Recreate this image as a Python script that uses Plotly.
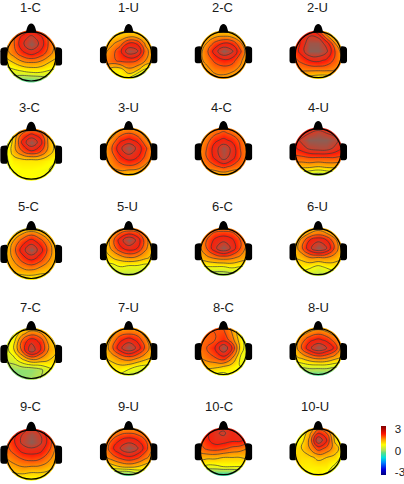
import numpy as np
import plotly.graph_objects as go

labels = ["1-C","1-U","2-C","2-U","3-C","3-U","4-C","4-U","5-C","5-U",
          "6-C","6-U","7-C","7-U","8-C","8-U","9-C","9-U","10-C","10-U"]

# Potential (scale -3..3) sampled across each scalp, rows front to back, columns left to right
grid_x = [-1.05, -0.73, -0.37, 0, 0.37, 0.73, 1.05]
grid_y = [1.1, 0.8, 0.5, 0.15, -0.25, -0.65, -0.98]

m_1C = [[.9,1.2,1.6,1.9,1.6,1.2,.9],[1.1,1.6,2.3,2.7,2.3,1.6,1.1],[1.3,1.7,2.5,3.0,2.5,1.7,1.2],[1.2,1.6,2.1,2.4,2.1,1.6,1.1],[.8,1.0,1.3,1.4,1.3,1.0,.9],[.3,.4,.5,.6,.6,.5,.4],[-.1,-.1,-.3,-.3,-.2,0,.1]]
m_1U = [[.7,.7,.8,.8,.8,.6,.5],[.9,1.0,1.1,1.3,1.2,.9,.7],[1.1,1.3,1.6,2.2,2.1,1.3,.9],[1.3,1.6,2.1,2.9,2.7,1.6,1.1],[1.5,1.7,1.9,1.9,1.8,1.4,1.2],[1.3,.8,.8,1.3,1.1,.5,.3],[1.2,.8,.7,.7,.1,-.3,-.6]]
m_2C = [[.7,.8,.9,.9,.8,.6,.3],[.9,1.1,1.3,1.4,1.3,1.0,.7],[1.1,1.4,1.9,2.2,2.1,1.5,.9],[1.2,1.7,2.4,3.0,2.7,1.9,1.1],[1.3,1.5,1.9,2.1,2.0,1.5,1.1],[1.2,1.3,1.5,1.6,1.5,1.3,1.0],[1.0,1.1,1.3,1.3,1.2,1.0,.9]]
m_2U = [[1.8,2.2,2.2,1.6,.9,.4,.2],[1.8,2.3,2.6,2.5,1.5,.8,.4],[1.8,2.3,2.9,2.9,2.4,1.4,.9],[1.9,2.4,3.0,3.0,2.7,1.8,1.2],[1.7,1.9,2.2,2.3,2.1,1.7,1.3],[1.5,1.5,1.5,1.5,1.5,1.4,1.2],[1.2,1.0,.9,.8,.8,.9,1.0]]
m_3C = [[.3,.8,1.2,1.4,1.2,.9,.7],[.3,1.0,1.9,2.3,2.0,1.1,.8],[.4,1.1,2.3,3.0,2.4,1.2,.8],[.5,1.2,1.8,2.2,1.9,1.2,.8],[.5,.8,.85,.85,.85,.75,.6],[.55,.65,.7,.7,.65,.6,.6],[.7,.7,.7,.7,.7,.7,.7]]
m_3U = [[.9,1.0,1.2,1.2,1.1,.9,.8],[1.0,1.2,1.6,1.8,1.6,1.2,.9],[1.2,1.5,2.1,2.3,2.1,1.5,1.1],[1.3,1.8,2.5,3.0,2.5,1.9,1.3],[1.3,1.6,2.1,2.4,2.2,1.7,1.3],[1.2,1.4,1.6,1.7,1.6,1.3,1.1],[1.2,1.2,1.2,1.0,1.0,1.0,1.0]]
m_4C = [[1.0,1.2,1.4,1.5,1.4,1.2,1.0],[1.2,1.4,1.7,1.9,1.7,1.4,1.2],[1.3,1.6,2.1,2.3,2.1,1.7,1.3],[1.4,1.8,2.4,2.9,2.5,1.8,1.4],[1.4,1.8,2.3,2.8,2.4,1.8,1.4],[1.3,1.5,1.7,1.9,1.7,1.5,1.3],[1.0,1.1,1.1,1.2,1.1,1.1,1.0]]
m_4U = [[2.0,2.1,2.2,2.3,2.2,2.1,2.0],[2.2,2.3,2.6,2.8,2.6,2.4,2.2],[2.3,2.7,3.0,3.0,3.0,2.8,2.3],[2.1,2.4,2.7,2.8,2.8,2.5,2.2],[1.7,1.7,1.8,1.8,1.8,1.8,1.7],[1.1,1.1,1.1,1.0,1.1,1.1,1.1],[.5,.4,.2,.1,.2,.4,.5]]
m_5C = [[.3,.5,.7,.8,.7,.4,.3],[.7,1.0,1.4,1.7,1.4,1.0,.7],[.9,1.4,2.0,2.4,2.0,1.4,.9],[1.0,1.6,2.4,3.0,2.4,1.6,1.0],[1.1,1.4,1.9,2.2,1.9,1.4,1.0],[1.1,1.2,1.3,1.4,1.2,1.1,.9],[.9,.7,.8,.8,.8,.8,.7]]
m_5U = [[.7,.8,1.1,1.2,1.3,1.0,.8],[.9,1.3,1.8,2.1,1.9,1.4,.9],[1.0,1.6,2.4,3.0,2.5,1.6,1.0],[1.0,1.5,2.1,2.4,2.2,1.5,1.0],[.9,1.0,1.2,1.4,1.3,1.1,.9],[.4,.4,.6,.5,.5,.4,.5],[.4,.2,.2,.2,.2,.2,.3]]
m_6C = [[1.0,1.1,1.3,1.3,1.3,1.1,1.0],[1.2,1.5,1.9,2.0,1.9,1.5,1.2],[1.3,1.8,2.3,2.5,2.3,1.8,1.3],[1.3,1.8,2.5,3.0,2.5,1.8,1.2],[1.1,1.3,1.5,1.6,1.5,1.3,1.1],[.6,.6,.6,.6,.7,.6,.6],[.2,.1,.0,.0,.1,.2,.4]]
m_6U = [[.7,.8,1.0,1.1,1.0,.8,.7],[.8,1.1,1.4,1.6,1.4,1.1,.8],[1.0,1.5,2.2,2.5,2.2,1.5,1.0],[1.1,1.7,2.5,3.0,2.6,1.7,1.0],[1.0,1.1,1.4,1.4,1.4,1.2,1.0],[.8,.8,.7,.5,.7,.8,.8],[.7,.5,.3,.2,.2,.5,.7]]
m_7C = [[-.1,.3,.7,1.0,.9,.7,.6],[.1,.6,1.3,1.7,1.5,1.0,.8],[.3,.8,1.9,2.5,2.1,1.2,.9],[.4,.9,1.9,2.9,2.2,1.3,1.0],[.3,.4,.9,1.3,1.2,1.0,.9],[-.1,-.1,-.1,-.1,.1,.5,.7],[-.2,-.2,-.1,.0,.2,.4,.5]]
m_7U = [[.7,.9,1.1,1.2,1.1,.9,.7],[.9,1.2,1.6,1.7,1.6,1.2,.9],[1.0,1.5,2.1,2.4,2.1,1.5,1.0],[1.1,1.7,2.5,3.0,2.5,1.7,1.1],[1.0,1.2,1.5,1.7,1.5,1.2,1.0],[.8,.8,.9,.8,.6,.5,.5],[.8,.7,.6,.3,.2,.2,.2]]
m_8C = [[1.7,1.8,1.8,1.7,1.3,.8,.5],[1.6,1.7,1.8,1.9,1.4,.7,.3],[1.6,1.7,1.8,2.1,1.6,.8,.3],[1.6,1.8,2.2,3.0,2.2,.9,.3],[1.4,1.6,1.8,2.1,1.5,.6,.4],[1.1,1.1,1.1,1.0,.8,.6,.6],[.9,.8,.6,.5,.7,.7,.7]]
m_8U = [[.6,.8,1.0,1.1,1.0,.9,.7],[.8,1.2,1.5,1.7,1.5,1.2,.8],[1.0,1.6,2.1,2.3,2.1,1.6,1.0],[1.1,1.8,2.5,3.0,2.6,2.1,1.1],[.9,1.1,1.4,1.6,1.5,1.2,1.0],[.2,.3,.4,.4,.4,.3,.3],[-.5,-.5,-.3,-.3,-.3,-.6,-.7]]
m_9C = [[1.5,1.9,2.3,2.5,2.3,1.7,1.2],[1.6,2.0,2.6,2.9,2.6,1.9,1.2],[1.7,2.1,2.7,3.0,2.7,2.0,1.3],[1.6,1.9,2.3,2.4,2.3,1.8,1.2],[1.3,1.5,1.7,1.8,1.7,1.4,1.1],[1.0,1.1,1.2,1.1,1.1,1.0,.9],[.7,.7,.7,.7,.7,.7,.6]]
m_9U = [[.8,1.0,1.2,1.2,1.2,1.0,.9],[1.1,1.4,1.7,1.8,1.7,1.4,1.1],[1.4,1.8,2.2,2.4,2.2,1.8,1.3],[1.5,2.1,2.6,3.0,2.7,2.0,1.3],[1.3,1.6,1.9,2.1,1.9,1.5,1.2],[.6,.8,1.0,1.1,1.0,.8,.7],[.1,-.1,-.3,-.3,.1,.4,.6]]
m_10C = [[1.7,2.1,2.3,2.4,2.4,2.3,1.9],[1.9,2.1,2.5,2.7,2.3,2.6,2.1],[1.8,2.1,2.4,2.4,2.3,2.3,2.0],[1.6,1.9,2.0,1.9,1.7,1.6,1.4],[1.2,1.1,1.1,1.0,1.0,1.0,1.1],[.7,.5,.5,.6,.6,.6,.7],[-.1,-.4,-.5,-.5,-.5,-.3,0]]
m_10U = [[.1,.4,.9,1.4,1.3,.7,.4],[.3,.6,1.3,2.2,1.8,.8,.6],[.6,.8,1.5,3.0,2.2,.9,.7],[.9,1.0,1.4,2.0,1.7,1.2,.8],[1.0,.9,.9,1.1,1.0,.9,.5],[1.0,.8,.8,.8,.8,.5,.3],[.9,.8,.6,.8,.6,.4,.3]]

maps = [m_1C,m_1U,m_2C,m_2U,m_3C,m_3U,m_4C,m_4U,m_5C,m_5U,
        m_6C,m_6U,m_7C,m_7U,m_8C,m_8U,m_9C,m_9U,m_10C,m_10U]

# ---- layout (pixels) ----
W, H = 404, 484
col_x = [31.3, 129, 224, 319]
col_r = [24.7, 23, 23, 23]
row_y_first = [56.3, 154.5, 253.8, 353.8, 454.5]
row_y_other = [54.7, 151.7, 251.7, 351.5, 451.7]
title_x = [31,129,223,318,30,129,222,319,29,128,223,318,31,129,224,319,31,129,220,316]
title_y = [7,107,207,307,406]


def stops(pairs, lo, hi):
    return [[(v - lo) / (hi - lo), c] for v, c in pairs]

map_scale = stops([(-3,"#00008f"),(-1.7,"#0080ff"),(-1,"#00d8e0"),(-.3,"#60e090"),(0,"#a8e060"),
                   (.7,"#ffff00"),(1.25,"#ffa800"),(1.75,"#ff5a08"),(2.15,"#ff1c08"),(2.6,"#d83a24"),(3,"#8c5e54")], -3, 3)
bar_scale = stops([(-3.4,"#000080"),(-2.6,"#0000e0"),(-1.7,"#0080ff"),(-1,"#00e0e0"),(-.3,"#60e080"),(0,"#a8e060"),
                   (.8,"#ffff00"),(1.5,"#ffa000"),(2.3,"#ff1000"),(3.4,"#800000")], -3.4, 3.4)

fig = go.Figure()
shapes, annotations = [], []
XS, YB, YT = 1.26, 1.19, 1.38
DISC = 1.06
theta = np.linspace(0, 2 * np.pi, 73)
hole = " ".join(("M" if i == 0 else "L") + f"{DISC*np.cos(t):.3f},{DISC*np.sin(t):.3f}" for i, t in enumerate(theta)) + " Z"
mask_path = f"M{-XS},{-YB} L{XS},{-YB} L{XS},{YT} L{-XS},{YT} Z " + hole
nose_path = "M-0.22,0.95 C-0.18,1.1 -0.15,1.33 0,1.33 C0.15,1.33 0.18,1.1 0.22,0.95 Z"
def ear(s):
    return (f"M{s*0.98},0.36 Q{s*1.1},0.38 {s*1.2},0.34 Q{s*1.26},0.3 {s*1.26},0.2 L{s*1.26},-0.24 "
            f"Q{s*1.26},-0.34 {s*1.2},-0.36 Q{s*1.1},-0.38 {s*0.98},-0.36 Z")

layout_axes = {}
for i, (name, z) in enumerate(zip(labels, maps)):
    r, c = i // 4, i % 4
    R = col_r[c]
    cx = col_x[c]
    cy = (row_y_first if c == 0 else row_y_other)[r]
    n = i + 1
    ax = "" if n == 1 else str(n)
    layout_axes[f"xaxis{ax}"] = dict(domain=[(cx - XS * R) / W, (cx + XS * R) / W], range=[-XS, XS],
                                     visible=False, fixedrange=True, anchor=f"y{ax}")
    layout_axes[f"yaxis{ax}"] = dict(domain=[1 - (cy + YB * R) / H, 1 - (cy - YT * R) / H], range=[-YB, YT],
                                     visible=False, fixedrange=True, anchor=f"x{ax}")
    fig.add_trace(go.Heatmap(
        x=grid_x, y=grid_y[::-1], z=z[::-1], xaxis=f"x{ax}", yaxis=f"y{ax}",
        colorscale=map_scale, zmin=-3, zmax=3, zsmooth="best", showscale=False, hoverinfo="skip"))
    fig.add_trace(go.Contour(
        x=grid_x, y=grid_y[::-1], z=z[::-1], xaxis=f"x{ax}", yaxis=f"y{ax}",
        showscale=False, hoverinfo="skip",
        contours=dict(start=0.2, end=2.6, size=0.4, coloring="none"),
        line=dict(color="#3c3c3c", width=0.7, smoothing=1.3)))
    xr, yr = f"x{ax}", f"y{ax}"
    shapes.append(dict(type="path", path=mask_path, xref=xr, yref=yr, fillcolor="white", fillrule="evenodd", line_width=0, layer="above"))
    shapes.append(dict(type="circle", x0=-1, x1=1, y0=-1, y1=1, xref=xr, yref=yr, line=dict(color="black", width=1.2), layer="above"))
    for p in (nose_path, ear(-1), ear(1)):
        shapes.append(dict(type="path", path=p, xref=xr, yref=yr, fillcolor="black", line_width=0, layer="above"))
    annotations.append(dict(text=name, x=title_x[i] / W, y=1 - title_y[r] / H, xref="paper", yref="paper",
                            xanchor="center", yanchor="middle", showarrow=False,
                            font=dict(family="Liberation Sans, Arial", size=13, color="#1a1a1a")))

fig.add_trace(go.Scatter(
    x=[None], y=[None], mode="markers", hoverinfo="skip", showlegend=False,
    marker=dict(color=[0], cmin=-3.4, cmax=3.4, colorscale=bar_scale, showscale=True,
                colorbar=dict(x=380.7 / W, xanchor="left", xpad=0, ypad=0, y=1 - 450.5 / H, yanchor="middle",
                              thickness=5, thicknessmode="pixels", len=49, lenmode="pixels", outlinewidth=0,
                              tickvals=[3, 0, -3], ticktext=["3", "0", "-3"], ticks="outside", ticklen=7,
                              tickcolor="white", tickwidth=0,
                              tickfont=dict(family="Liberation Sans, Arial", size=11.5, color="#1a1a1a")))))

fig.update_layout(width=W, height=H, margin=dict(l=0, r=0, t=0, b=0), paper_bgcolor="white",
                  plot_bgcolor="white", showlegend=False, shapes=shapes, annotations=annotations, **layout_axes)
fig.write_html("out.html", config={"displayModeBar": False}, post_script="document.body.style.margin='0';")
